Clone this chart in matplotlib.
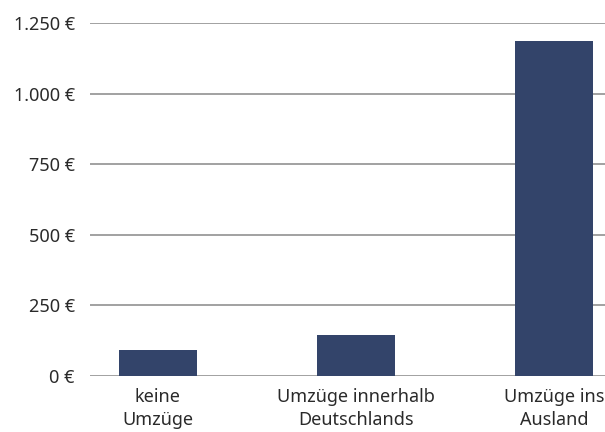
import matplotlib.pyplot as plt

categories = ["keine\nUmzüge", "Umzüge innerhalb\nDeutschlands", "Umzüge ins\nAusland"]
values = [91, 144, 1187]
yticks = [0, 250, 500, 750, 1000, 1250]
ytick_labels = ["0 €", "250 €", "500 €", "750 €", "1.000 €", "1.250 €"]

plt.rcParams['font.family'] = ['Noto Sans', 'DejaVu Sans']

fig = plt.figure(figsize=(6.05, 4.32), dpi=100)
ax = fig.add_axes([90 / 605, 1 - 376 / 432, 1 - 90 / 605, (376 - 23) / 432])

x = range(len(categories))
ax.bar(x, values, width=0.394, color="#33446a", zorder=3)

ax.set_xlim(-0.343, 2.258)
ax.set_ylim(0, 1250)
ax.set_yticks(yticks)
ax.set_yticklabels(ytick_labels, fontsize=13, color="#2a2a2a")
ax.set_xticks(list(x))
ax.set_xticklabels(categories, fontsize=13, color="#2a2a2a", linespacing=1.35)
ax.yaxis.grid(True, color="#9a9a9a", linewidth=1.3, zorder=0)
ax.tick_params(axis="both", length=0)
ax.tick_params(axis="y", pad=11)
ax.tick_params(axis="x", pad=9)
for s in ax.spines.values():
    s.set_visible(False)
ax.set_axisbelow(True)

fig.savefig("out.png", dpi=100)
